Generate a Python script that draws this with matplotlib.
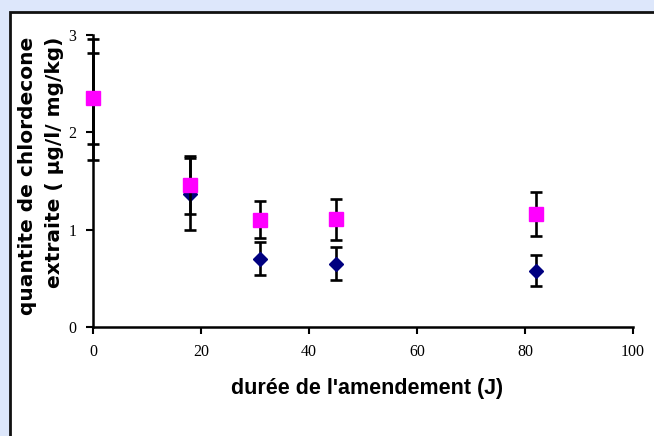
import numpy as np
import matplotlib
matplotlib.use('Agg')
import matplotlib.pyplot as plt
from matplotlib.patches import Rectangle

# durée de l'amendement (J)
jours = [0, 18, 31, 45, 82]
# série losanges (bleu marine)
y_losange = [2.34, 1.37, 0.70, 0.65, 0.58]
err_losange = [0.62, 0.37, 0.17, 0.17, 0.155]
# série carrés (magenta)
y_carre = [2.35, 1.46, 1.10, 1.105, 1.16]
err_carre = [0.47, 0.30, 0.19, 0.215, 0.23]

xticks = [0, 20, 40, 60, 80, 100]
yticks = [0, 1, 2, 3]

fig = plt.figure(figsize=(6.54, 4.36), dpi=100)
fig.patch.set_facecolor('#dde7fb')
# white chart area with black frame
panel = Rectangle((9.5/654, -0.1), 1.2, 1 - 12.5/436 + 0.1, transform=fig.transFigure,
                  facecolor='white', edgecolor='#111111', lw=2, zorder=0)
fig.add_artist(panel)

ax = fig.add_axes([93/654, 1 - 327/436, 540/654, 292/436])
ax.set_facecolor('none')

eb1 = ax.errorbar(jours, y_losange, yerr=err_losange, fmt='D', color='#000080', ms=7.5,
                  ecolor='black', elinewidth=1.9, capsize=4.5, capthick=1.9, zorder=3)
eb2 = ax.errorbar(jours, y_carre, yerr=err_carre, fmt='s', color='#ff00ff', ms=10.5,
                  ecolor='black', elinewidth=1.9, capsize=4.5, capthick=1.9, zorder=4)
# points at x=0 sit on the axis, don't cut them
for eb in [eb1, eb2]:
    for art in eb.get_children():
        art.set_clip_on(False)

ax.set_xlim(0, 100)
ax.set_ylim(0, 3)
ax.set_xticks(xticks)
ax.set_yticks(yticks)
ax.spines['top'].set_visible(False)
ax.spines['right'].set_visible(False)
for s in ['left', 'bottom']:
    ax.spines[s].set_linewidth(1.8)
ax.tick_params(direction='out', length=5, width=1.5, pad=7)
for lab in ax.get_xticklabels() + ax.get_yticklabels():
    lab.set_fontfamily('Liberation Serif')
    lab.set_fontsize(11.5)

fig.text(367/654, 1 - 388/436, "durée de l'amendement (J)", ha='center', va='center',
         fontsize=15.5, fontweight='bold', family='Liberation Sans')
fig.text(28/654, 1 - 176/436, "quantite de chlordecone", ha='center', va='center',
         rotation=90, fontsize=14.5, fontweight='bold', family='DejaVu Sans')
fig.text(55/654, 1 - 162/436, "extraite ( µg/l/ mg/kg)", ha='center', va='center',
         rotation=90, fontsize=14.5, fontweight='bold', family='DejaVu Sans')

plt.savefig('out.png', dpi=100, facecolor=fig.get_facecolor())
